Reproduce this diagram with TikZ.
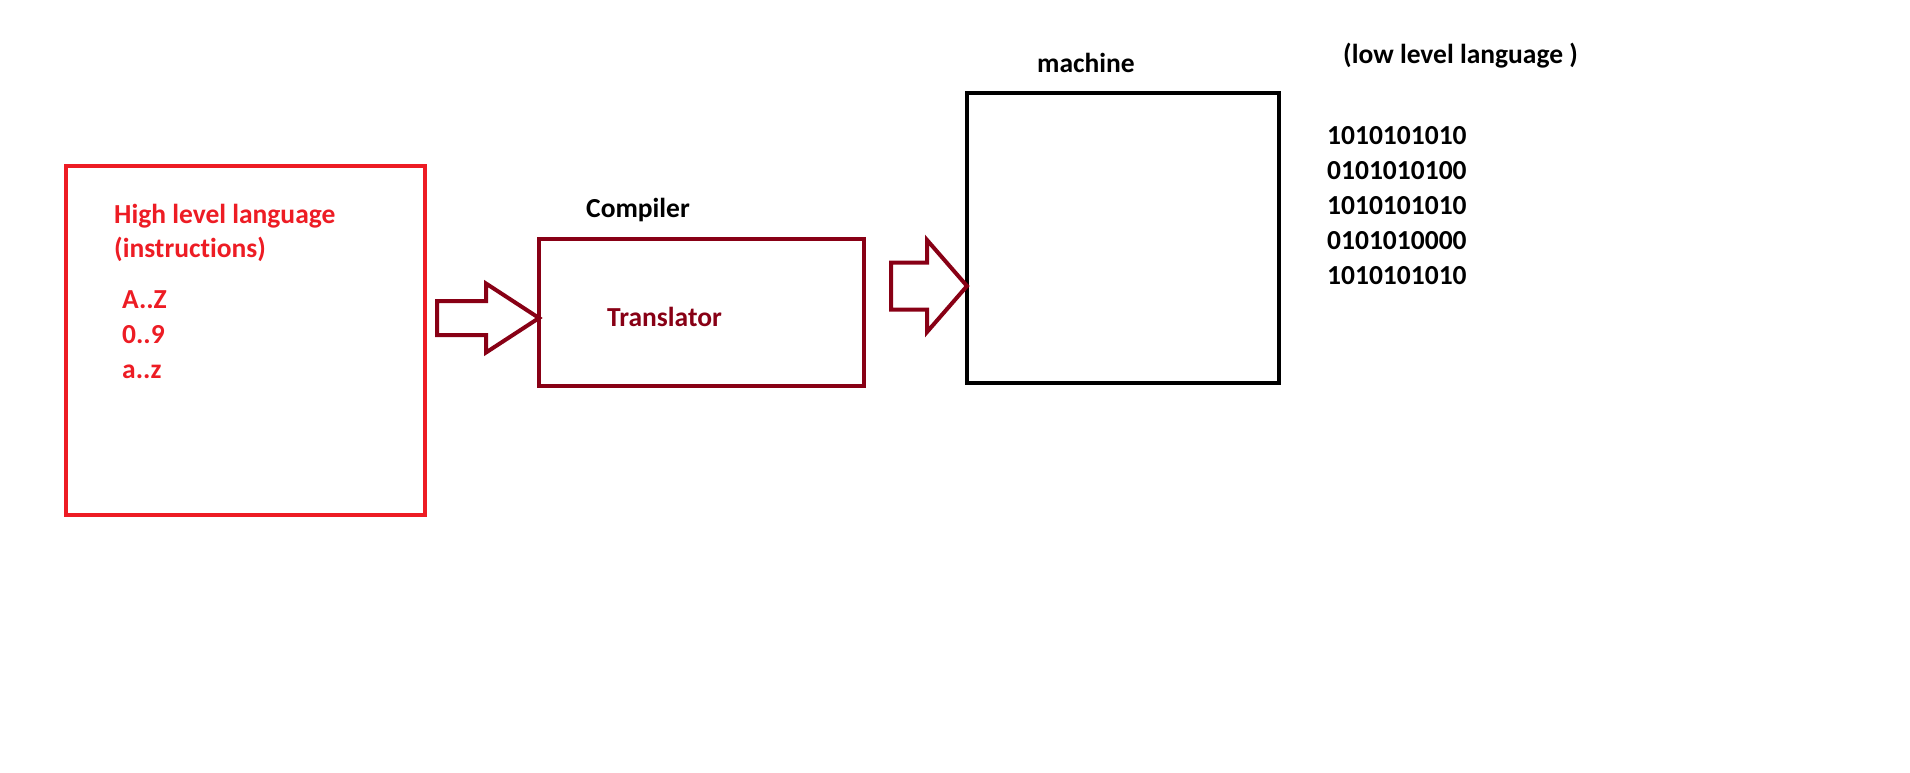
\documentclass[tikz,border=0pt]{standalone}
\usepackage{fontspec}
\setmainfont{Carlito}[Ligatures={NoCommon}]
\usetikzlibrary{calc}
\definecolor{pred}{HTML}{ED1C24}
\definecolor{pdark}{HTML}{880015}
\tikzset{
  box/.style={draw, line width=4.5pt, rectangle, inner sep=0pt, outer sep=0pt, anchor=north west},
  lbl/.style={anchor=base west, inner sep=0pt, font=\fontsize{27.5}{33}\selectfont\bfseries},
  blockarrow/.style={draw=pdark, line width=4pt, line join=miter},
}
\begin{document}
\begin{tikzpicture}[x=1pt,y=-1pt]
\useasboundingbox (0,0) rectangle (1910,772);
% boxes
\node[box, draw=pred, minimum width=359pt, minimum height=349pt] (hll) at (66,166) {};
\node[box, draw=pdark, minimum width=325pt, minimum height=147pt] (comp) at (539,239) {};
\node[box, draw=black, minimum width=312pt, minimum height=290pt] (mach) at (967,93) {};
% texts in high level box
\node[lbl, text=pred] (t1) at (114,223) {High level language};
\node[lbl, text=pred] (t2) at (114,257) {(instructions)};
\node[lbl, text=pred] (t3) at (122,308) {A..Z};
\node[lbl, text=pred] (t4) at (122,343) {0..9};
\node[lbl, text=pred] (t5) at (122,378) {a..z};
% compiler
\node[lbl] (ctitle) at (586,217) {Compiler};
\node[lbl, text=pdark] (ctrans) at (607,326) {Translator};
% machine
\node[lbl] (mtitle) at (1037,72) {machine};
\node[lbl] (low) at (1343,63) {(low level language )};
\node[lbl] (b1) at (1327,144) {1010101010};
\node[lbl] (b2) at (1327,179) {0101010100};
\node[lbl] (b3) at (1327,214) {1010101010};
\node[lbl] (b4) at (1327,249) {0101010000};
\node[lbl] (b5) at (1327,284) {1010101010};
% block arrows
\coordinate (tipA) at (comp.west |- 0,318);
\coordinate (tipB) at (mach.west |- 0,286);
\draw[blockarrow] ($(tipA)+(-102,-17)$) -- ($(tipA)+(-53,-17)$) -- ($(tipA)+(-53,-34.5)$) -- (tipA)
  -- ($(tipA)+(-53,34.5)$) -- ($(tipA)+(-53,17)$) -- ($(tipA)+(-102,17)$) -- cycle;
\draw[blockarrow] ($(tipB)+(-76,-23.5)$) -- ($(tipB)+(-40,-23.5)$) -- ($(tipB)+(-40,-46)$) -- (tipB)
  -- ($(tipB)+(-40,46)$) -- ($(tipB)+(-40,23.5)$) -- ($(tipB)+(-76,23.5)$) -- cycle;
\end{tikzpicture}
\end{document}
